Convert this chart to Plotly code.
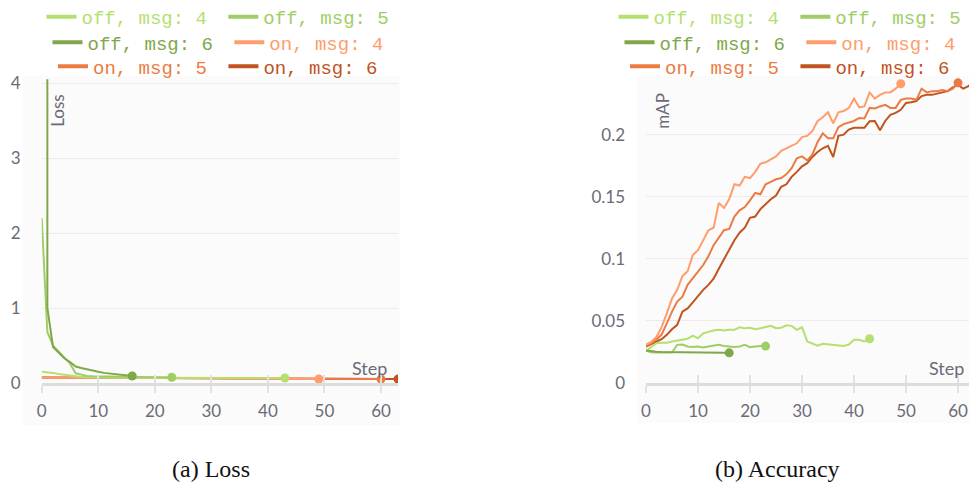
import plotly.graph_objects as go

# ---------------- data ----------------
series_names = ["off, msg: 4", "off, msg: 5", "off, msg: 6", "on, msg: 4", "on, msg: 5", "on, msg: 6"]
colors = ["#b4e070", "#a0cd66", "#7ea84a", "#ff9d6c", "#ec7b43", "#c1531f"]

# Loss (left panel)
loss_off4_steps = list(range(0, 44))
loss_off4 = [0.15, 0.145, 0.135, 0.12, 0.11, 0.095, 0.085, 0.08, 0.076, 0.074,
             0.073, 0.072, 0.072, 0.071, 0.071, 0.071, 0.070, 0.070, 0.070, 0.070,
             0.070, 0.069, 0.069, 0.069, 0.069, 0.069, 0.069, 0.068, 0.068, 0.068,
             0.068, 0.068, 0.068, 0.068, 0.068, 0.068, 0.067, 0.067, 0.067, 0.067,
             0.067, 0.067, 0.067, 0.067]
loss_off5_steps = list(range(0, 24))
loss_off5 = [2.2, 0.68, 0.5, 0.42, 0.35, 0.26, 0.13, 0.11, 0.095, 0.09,
             0.088, 0.086, 0.085, 0.084, 0.083, 0.082, 0.081, 0.08, 0.08, 0.079,
             0.078, 0.078, 0.077, 0.076]
loss_off6_steps = [1, 1, 2, 3, 4, 5, 6, 7, 8, 9, 10, 11, 12, 13, 14, 15, 16]
loss_off6 = [4.05, 1.0, 0.48, 0.40, 0.33, 0.28, 0.22, 0.20, 0.18, 0.16, 0.15,
             0.135, 0.125, 0.115, 0.105, 0.098, 0.093]
loss_on4_steps = list(range(0, 50))
loss_on4 = [0.072, 0.072, 0.071, 0.071, 0.071, 0.070, 0.070, 0.070, 0.069, 0.069,
            0.069, 0.068, 0.068, 0.068, 0.067, 0.067, 0.067, 0.066, 0.066, 0.066,
            0.065, 0.065, 0.065, 0.064, 0.064, 0.064, 0.063, 0.063, 0.063, 0.062,
            0.062, 0.062, 0.061, 0.061, 0.060, 0.060, 0.060, 0.059, 0.059, 0.058,
            0.058, 0.057, 0.057, 0.056, 0.056, 0.055, 0.055, 0.054, 0.054, 0.053]
loss_on5_steps = list(range(0, 61))
loss_on5 = [0.072, 0.072, 0.071, 0.071, 0.071, 0.070, 0.070, 0.070, 0.069, 0.069,
            0.069, 0.068, 0.068, 0.068, 0.067, 0.067, 0.067, 0.066, 0.066, 0.066,
            0.065, 0.065, 0.065, 0.064, 0.064, 0.064, 0.063, 0.063, 0.063, 0.062,
            0.062, 0.062, 0.061, 0.061, 0.061, 0.060, 0.060, 0.060, 0.059, 0.059,
            0.059, 0.058, 0.058, 0.058, 0.057, 0.057, 0.057, 0.056, 0.056, 0.056,
            0.055, 0.055, 0.055, 0.054, 0.054, 0.054, 0.053, 0.053, 0.052, 0.052,
            0.052]
loss_on6_steps = list(range(0, 64))
loss_on6 = [0.074, 0.074, 0.073, 0.073, 0.073, 0.072, 0.072, 0.072, 0.071, 0.071,
            0.071, 0.070, 0.070, 0.070, 0.069, 0.069, 0.069, 0.068, 0.068, 0.068,
            0.067, 0.067, 0.067, 0.066, 0.066, 0.066, 0.065, 0.065, 0.065, 0.064,
            0.064, 0.064, 0.063, 0.063, 0.063, 0.062, 0.062, 0.062, 0.061, 0.061,
            0.061, 0.060, 0.060, 0.060, 0.059, 0.059, 0.059, 0.058, 0.058, 0.058,
            0.057, 0.057, 0.057, 0.056, 0.056, 0.056, 0.055, 0.055, 0.055, 0.054,
            0.054, 0.053, 0.053, 0.052]

# Accuracy / mAP (right panel)
map_off4_steps = list(range(0, 44))
map_off4 = [0.026, 0.029, 0.032, 0.0325, 0.0325, 0.0334, 0.034, 0.0348, 0.0356, 0.0382,
            0.036, 0.040, 0.0414, 0.0422, 0.0428, 0.0422, 0.0428, 0.0428, 0.0449, 0.0441,
            0.0444, 0.0433, 0.0441, 0.0449, 0.046, 0.0441, 0.0444, 0.0465, 0.046, 0.0428,
            0.0449, 0.0335, 0.0316, 0.0300, 0.0316, 0.031, 0.031, 0.0298, 0.0298, 0.031,
            0.0348, 0.0348, 0.0334, 0.0356]
map_off5_steps = list(range(0, 24))
map_off5 = [0.026, 0.0248, 0.0246, 0.0246, 0.0246, 0.0246, 0.0307, 0.031, 0.0294, 0.0289,
            0.0294, 0.0286, 0.0294, 0.0298, 0.0307, 0.0298, 0.0294, 0.0289, 0.0294, 0.0307,
            0.0289, 0.0294, 0.0298, 0.0297]
map_off6_steps = list(range(0, 17))
map_off6 = [0.0262, 0.0255, 0.0252, 0.025, 0.025, 0.0249, 0.0248, 0.0248, 0.0247, 0.0247,
            0.0246, 0.0246, 0.0246, 0.0245, 0.0245, 0.0244, 0.0243]
map_on4_steps = list(range(0, 50))
map_on4 = [0.031, 0.033, 0.037, 0.045, 0.056, 0.068, 0.075, 0.086, 0.090, 0.103,
           0.107, 0.115, 0.123, 0.125, 0.145, 0.141, 0.148, 0.160, 0.159, 0.166,
           0.165, 0.170, 0.1766, 0.1777, 0.1804, 0.1825, 0.187, 0.189, 0.191, 0.193,
           0.198, 0.199, 0.203, 0.211, 0.214, 0.218, 0.209, 0.218, 0.219, 0.2215,
           0.229, 0.222, 0.2227, 0.234, 0.229, 0.232, 0.234, 0.234, 0.237, 0.241]
map_on5_steps = list(range(0, 61))
map_on5 = [0.030, 0.032, 0.035, 0.039, 0.048, 0.0575, 0.0655, 0.0695, 0.079, 0.084,
           0.0896, 0.095, 0.102, 0.111, 0.1174, 0.123, 0.124, 0.134, 0.139, 0.1417,
           0.147, 0.153, 0.152, 0.160, 0.162, 0.164, 0.165, 0.168, 0.173, 0.181,
           0.1825, 0.1793, 0.184, 0.194, 0.201, 0.197, 0.197, 0.206, 0.2085, 0.210,
           0.211, 0.2134, 0.213, 0.2215, 0.221, 0.2227, 0.224, 0.2215, 0.2215, 0.228,
           0.229, 0.229, 0.228, 0.237, 0.234, 0.235, 0.235, 0.236, 0.235, 0.237,
           0.2417]
map_on6_steps = list(range(0, 64))
map_on6 = [0.0294, 0.0316, 0.0334, 0.0353, 0.0388, 0.0433, 0.0468, 0.0575, 0.060, 0.065,
           0.070, 0.075, 0.079, 0.084, 0.092, 0.100, 0.108, 0.115, 0.121, 0.125,
           0.133, 0.134, 0.140, 0.144, 0.148, 0.151, 0.158, 0.160, 0.166, 0.170,
           0.1745, 0.177, 0.182, 0.186, 0.189, 0.191, 0.182, 0.199, 0.200, 0.204,
           0.2055, 0.2055, 0.2055, 0.2107, 0.211, 0.2035, 0.211, 0.216, 0.2175, 0.220,
           0.2255, 0.226, 0.227, 0.231, 0.232, 0.232, 0.233, 0.234, 0.235, 0.238,
           0.240, 0.237, 0.239, 0.243]

loss_steps = [loss_off4_steps, loss_off5_steps, loss_off6_steps, loss_on4_steps, loss_on5_steps, loss_on6_steps]
loss_vals = [loss_off4, loss_off5, loss_off6, loss_on4, loss_on5, loss_on6]
map_steps = [map_off4_steps, map_off5_steps, map_off6_steps, map_on4_steps, map_on5_steps, map_on6_steps]
map_vals = [map_off4, map_off5, map_off6, map_on4, map_on5, map_on6]

x_ticks = [0, 10, 20, 30, 40, 50, 60]
loss_ticks = [0, 1, 2, 3, 4]
map_ticks = [0, 0.05, 0.1, 0.15, 0.2]
captions = ["(a) Loss", "(b) Accuracy"]
y_titles = ["Loss", "mAP"]

# ---------------- figure ----------------
# The page body has an 8px margin on every side; the figure fills the rest of the window
OFF = 8
W, H = 977 - 2 * OFF, 493 - 2 * OFF


def px_x(p):
    return (p - OFF) / W


def px_y(p):
    return 1 - (p - OFF) / H


tick_color = "#6b6b76"
tick_font = dict(family="Lato, 'Source Sans Pro', sans-serif", size=17, color=tick_color)
legend_font = dict(family="Liberation Mono, DejaVu Sans Mono, monospace", size=19)

fig = go.Figure()

draw_order = [5, 4, 3, 0, 1, 2]
for panel, (steps_list, vals_list) in enumerate([(loss_steps, loss_vals), (map_steps, map_vals)]):
    xa = "x" if panel == 0 else "x2"
    ya = "y" if panel == 0 else "y2"
    for i in draw_order:
        fig.add_trace(go.Scatter(x=steps_list[i], y=vals_list[i], mode="lines",
                                 line=dict(color=colors[i], width=2),
                                 xaxis=xa, yaxis=ya, showlegend=False, hoverinfo="skip"))
        fig.add_trace(go.Scatter(x=[steps_list[i][-1]], y=[vals_list[i][-1]], mode="markers",
                                 marker=dict(color=colors[i], size=9),
                                 xaxis=xa, yaxis=ya, showlegend=False, hoverinfo="skip"))

# legends: 3 rows per panel, each row its own centred legend
legend_rows = [[0, 1], [2, 3], [4, 5]]
row_y_px = [17, 42.5, 66.5]
legend_cx_px = [218, 790]
layout_legends = {}
n = 0
for panel in range(2):
    for r, row in enumerate(legend_rows):
        n += 1
        key = "legend" if n == 1 else f"legend{n}"
        for k, i in enumerate(row):
            pad = "&nbsp;" if k == 0 else ""
            fig.add_trace(go.Scatter(x=[None], y=[None], mode="lines",
                                     line=dict(color=colors[i], width=4),
                                     name=f'<span style="color:{colors[i]}">{series_names[i]}{pad}</span>',
                                     legend=key, showlegend=True,
                                     xaxis="x" if panel == 0 else "x2",
                                     yaxis="y" if panel == 0 else "y2"))
        layout_legends[key] = dict(orientation="h", x=px_x(legend_cx_px[panel]), xanchor="center",
                                   y=px_y(row_y_px[r]), yanchor="middle",
                                   font=legend_font, borderwidth=0,
                                   bgcolor="rgba(0,0,0,0)", itemwidth=30, tracegroupgap=0)

# geometry (window pixels -> paper)
y_dom = [px_y(383), px_y(75.5)]
x_dom1 = [px_x(41.7), px_x(398.0)]
x_dom2 = [px_x(646.0), 1.0]
x_range1 = [0, 63]
x_range2 = [0, (977 - OFF - 646) / 5.2]
y_range1 = [0, 4.1]
y_range2 = [0, 0.2476]


def xaxis_base(dom, rng, anchor):
    return dict(domain=dom, range=rng, tickvals=x_ticks, showgrid=False, zeroline=False,
                showline=True, linecolor="#dcdcdc", linewidth=3, anchor=anchor,
                ticks="outside", ticklen=7, tickwidth=2, tickcolor="#e2e2e2",
                tickfont=tick_font, ticklabelstandoff=4, ticklabeloverflow="allow",
                fixedrange=True, automargin=False)


def xaxis_overlay(dom, rng, over, anchor):
    return dict(domain=dom, range=rng, tickvals=x_ticks, overlaying=over, anchor=anchor,
                side="bottom", showgrid=False, zeroline=False, showline=False,
                ticks="inside", ticklen=8, tickwidth=2, tickcolor="#e2e2e2",
                showticklabels=False, automargin=False)


def yaxis_base(rng, ticks, anchor):
    return dict(domain=y_dom, range=rng, tickvals=ticks, showgrid=True, gridcolor="#ebebeb",
                gridwidth=1, zeroline=False, showline=False, ticks="", anchor=anchor,
                tickfont=tick_font, ticklabelstandoff=20, fixedrange=True, automargin=False)


def dom_x(p, dom):
    # window pixel -> fraction of an axis domain
    a, b = dom[0] * W + OFF, dom[1] * W + OFF
    return (p - a) / (b - a)


annotations = []
for panel, (xd, yd, dom) in enumerate([("x domain", "y domain", x_dom1),
                                       ("x2 domain", "y2 domain", x_dom2)]):
    annotations.append(dict(text=y_titles[panel], xref=xd, yref=yd,
                            x=dom_x([58, 663][panel], dom), y=0.885, textangle=-90,
                            showarrow=False, xanchor="center", yanchor="middle",
                            font=dict(family="Lato, sans-serif", size=17, color=tick_color)))
    annotations.append(dict(text="Step", xref=xd, yref=yd,
                            x=dom_x([389, 966][panel], dom), y=0.049, showarrow=False,
                            xanchor="right", yanchor="middle",
                            font=dict(family="Lato, sans-serif", size=18, color=tick_color)))
for panel, cx in enumerate([211, 777]):
    annotations.append(dict(text=captions[panel], xref="paper", yref="paper",
                            x=px_x(cx), y=px_y(469), showarrow=False,
                            xanchor="center", yanchor="middle",
                            font=dict(family="Liberation Serif, Times New Roman, serif", size=24,
                                      color="#111111")))

shapes = [
    dict(type="rect", xref="paper", yref="paper", layer="below", line=dict(width=0),
         fillcolor="#fbfbfb", x0=px_x(23), x1=px_x(400), y0=px_y(425), y1=px_y(76)),
    dict(type="rect", xref="paper", yref="paper", layer="below", line=dict(width=0),
         fillcolor="#fbfbfb", x0=px_x(637), x1=1.0, y0=px_y(423), y1=px_y(76)),
]

fig.update_layout(
    width=W, height=H, margin=dict(l=0, r=0, t=0, b=0, autoexpand=False),
    paper_bgcolor="white", plot_bgcolor="rgba(0,0,0,0)",
    xaxis=xaxis_base(x_dom1, x_range1, "y"),
    xaxis2=xaxis_base(x_dom2, x_range2, "y2"),
    xaxis3=xaxis_overlay(x_dom1, x_range1, "x", "y"),
    xaxis4=xaxis_overlay(x_dom2, x_range2, "x2", "y2"),
    yaxis=yaxis_base(y_range1, loss_ticks, "x"),
    yaxis2=yaxis_base(y_range2, map_ticks, "x2"),
    annotations=annotations, shapes=shapes,
    showlegend=True,
    **layout_legends,
)

# dummy traces to activate overlay tick axes
fig.add_trace(go.Scatter(x=[None], y=[None], xaxis="x3", yaxis="y", showlegend=False))
fig.add_trace(go.Scatter(x=[None], y=[None], xaxis="x4", yaxis="y2", showlegend=False))

fig.write_html("out.html")
